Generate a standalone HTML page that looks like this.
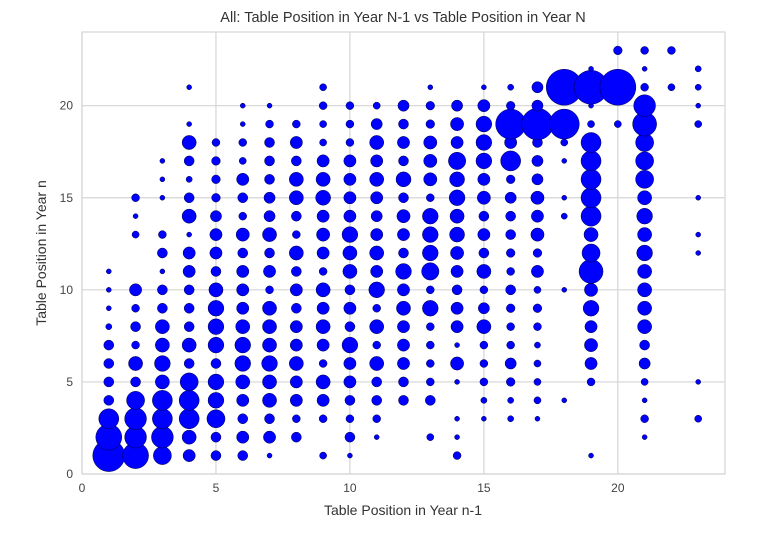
<!DOCTYPE html>
<html><head><meta charset="utf-8"><style>
body{margin:0;background:#fff}
svg text{font-family:"Liberation Sans",Arial,sans-serif}
</style></head><body>
<svg id="chart" width="760" height="537" viewBox="0 0 760 537" xmlns="http://www.w3.org/2000/svg">
<rect x="0" y="0" width="760" height="537" fill="#fff"/>
<text x="403" y="22" text-anchor="middle" font-size="14.5" fill="#333">All: Table Position in Year N-1 vs Table Position in Year N</text>
<g id="grid"></g>
<g id="marks"></g>
<rect x="82" y="32" width="643" height="442" fill="none" stroke="#d5d5d5" stroke-width="1.2"/>
<g id="ticks"></g>
<text x="403" y="515" text-anchor="middle" font-size="14" fill="#333">Table Position in Year n-1</text>
<text x="0" y="0" transform="translate(46,253) rotate(-90)" text-anchor="middle" font-size="14" fill="#333">Table Position in Year n</text>
</svg>
<script>
// counts per column (x = 1..23), index = y-1 (y = 1..23), 0 = no point
const col01=[41,27,16,4,4,4,4,1.5,1,1,1];
const col02=[27,19,19,13,4,8,2.5,4,2.5,6,0,0,2,1,2.5];
const col03=[13,19,16,16,8,10,8,8,4,4,1,4,2.5,0,1,1,1];
const col04=[6,8,16,16,13,4,8,4,4,4,6,6,1,8,4,1.5,4,8,1,0,1];
const col05=[4,4,13,10,10,4,10,10,10,8,4,6,6,5,3,3,3,2.5];
const col06=[4,6,4,6,8,10,10,8,6,6,6,4,7,2.5,4,6,2,2.5,1,1];
const col07=[1,6,4,8,8,10,8,8,8,2.5,6,4,8,5,5,4,4,4,2.5,1];
const col08=[0,4,2.5,6,6,8,6,6,4,6,4,8,2.5,4,8,8,4,6,2.5];
const col09=[2,0,2.5,6,8,2.5,6,8,6,8,2.5,6,7,6,9,8,6,2,2,2.5,2];
const col10=[1,4,2.5,4,6,6,10,4,6,4,8,8,10,6,6,6,6,2.5,2.5,2.5];
const col11=[0,1,2.5,4,4,8,2.5,8,2.5,10,6,8,6,5,6,8,6,8,5,2];
const col12=[0,0,0,4,4,6,6,6,8,6,10,4,6,7,4,9,4,6,4,5];
const col13=[0,2,0,4,2.5,2.5,2.5,2.5,10,2.5,12,10,10,10,2.5,7,7,7,3,3,1];
const col14=[2.5,1,1,0,1,7,1,6,6,4,6,7,9,8,10,9,12,6,7,5];
const col15=[0,0,1,1.5,2.5,2.5,2.5,8,5,2.5,8,4,6,4,7,6,10,10,10,6,1];
const col16=[0,0,1.5,1.5,3,5,2.5,2.5,3,4,2.5,3,4,4,5,3,16,6,36,3,1.5];
const col17=[0,0,1,2,2,2,1.5,2.5,3,2,6,3,7,6,7,5,5,4,40,5,5];
const col18=[0,0,0,1,0,0,0,0,0,1,0,0,0,1.5,1,0,1,2,36,0,52];
const col19=[1,0,0,0,2.5,6,7,6,10,7,23,13,8,16,16,16,16,16,2,1,46,1];
const col20=[0,0,0,0,0,0,0,0,0,0,0,0,0,0,0,0,0,0,2,0,52,0,3];
const col21=[0,1,2.5,1,2,5,4,8,8,8,8,10,8,10,8,13,13,13,23,19,2.5,1,2.5];
const col22=[0,0,0,0,0,0,0,0,0,0,0,0,0,0,0,0,0,0,0,0,2,0,2.5];
const col23=[0,0,2,0,1,0,0,0,0,0,0,1,1,0,1,0,0,0,2,1,1.5,1.5];
const columns=[col01,col02,col03,col04,col05,col06,col07,col08,col09,col10,col11,col12,col13,col14,col15,col16,col17,col18,col19,col20,col21,col22,col23];
const xTicks=[0,5,10,15,20];
const yTicks=[0,5,10,15,20];

const NS="http://www.w3.org/2000/svg";
const L=82,R=725,T=32,B=474,XMAX=24,YMAX=24;
function xs(v){return L+(R-L)*v/XMAX;}
function ys(v){return B-(B-T)*v/YMAX;}
function rad(c){return 2.5*Math.sqrt(c);}
const grid=document.getElementById('grid'),marks=document.getElementById('marks'),ticks=document.getElementById('ticks');
xTicks.forEach(t=>{
  const l=document.createElementNS(NS,'line');
  l.setAttribute('x1',xs(t));l.setAttribute('x2',xs(t));l.setAttribute('y1',T);l.setAttribute('y2',B);
  l.setAttribute('stroke','#d5d5d5');l.setAttribute('stroke-width','1.2');
  
  
  grid.appendChild(l);
  const tx=document.createElementNS(NS,'text');
  tx.setAttribute('x',xs(t));tx.setAttribute('y',B+18);tx.setAttribute('text-anchor','middle');
  tx.setAttribute('font-size','12');tx.setAttribute('fill','#444');tx.textContent=t;
  
  
  ticks.appendChild(tx);
});
yTicks.forEach(t=>{
  const l=document.createElementNS(NS,'line');
  l.setAttribute('x1',L);l.setAttribute('x2',R);l.setAttribute('y1',ys(t));l.setAttribute('y2',ys(t));
  l.setAttribute('stroke','#d5d5d5');l.setAttribute('stroke-width','1.2');
  
  
  grid.appendChild(l);
  const tx=document.createElementNS(NS,'text');
  tx.setAttribute('x',L-9);tx.setAttribute('y',ys(t)+4);tx.setAttribute('text-anchor','end');
  tx.setAttribute('font-size','12');tx.setAttribute('fill','#444');tx.textContent=t;
  
  
  ticks.appendChild(tx);
});
columns.forEach((col,i)=>{
  const x=i+1;
  col.forEach((c,j)=>{
    if(!c)return;
    const y=j+1;
    const ci=document.createElementNS(NS,'circle');
    ci.setAttribute('cx',xs(x));ci.setAttribute('cy',ys(y));ci.setAttribute('r',rad(c));
    ci.setAttribute('fill','#0000ff');ci.setAttribute('stroke','#000040');ci.setAttribute('stroke-width','0.5');
    
    
    marks.appendChild(ci);
  });
});
</script>
</body></html>
